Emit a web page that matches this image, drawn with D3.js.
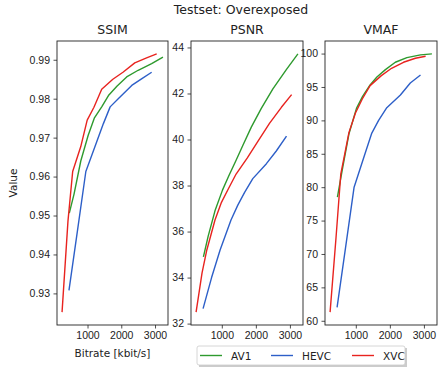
<!DOCTYPE html>
<html>
<head>
<meta charset="utf-8">
<script src="https://cdn.jsdelivr.net/npm/d3@7"></script>
<style>
  body { margin: 0; background: #fff; }
  svg { display: block; font-family: 'DejaVu Sans', sans-serif; }
  .tick text { font-size: 10.5px; fill: #222; }
</style>
</head>
<body>
<div id="chart"></div>
<script>
// bitrates per codec (kbit/s)
const bitrateAV1 = [460, 600, 800, 1020, 1200, 1420, 1620, 1870, 2160, 2500, 2900, 3235]
const bitrateHEVC = [450, 700, 950, 1270, 1470, 1670, 1910, 2310, 2600, 2900]
const bitrateXVC = [245, 420, 560, 800, 990, 1190, 1420, 1750, 2050, 2400, 2750, 3050]

// SSIM
const ssimAV1 = [0.9506, 0.9555, 0.964, 0.9706, 0.975, 0.9779, 0.9808, 0.9832, 0.9856, 0.9873, 0.989, 0.9907]
const ssimHEVC = [0.9308, 0.946, 0.9613, 0.9689, 0.9736, 0.9779, 0.98, 0.9834, 0.9851, 0.9868]
const ssimXVC = [0.9252, 0.9485, 0.9613, 0.9677, 0.9745, 0.9778, 0.9824, 0.985, 0.9868, 0.9892, 0.9905, 0.9915]

// PSNR
const psnrAV1 = [34.9, 35.8, 36.9, 37.8, 38.4, 39.1, 39.75, 40.55, 41.35, 42.2, 43.05, 43.72]
const psnrHEVC = [32.65, 34.0, 35.2, 36.5, 37.15, 37.7, 38.3, 38.95, 39.5, 40.15]
const psnrXVC = [32.5, 34.2, 35.2, 36.5, 37.27, 37.85, 38.5, 39.2, 39.9, 40.7, 41.4, 41.95]

// VMAF
const vmafAV1 = [78.5, 82.5, 88.0, 91.8, 93.6, 95.3, 96.5, 97.6, 98.7, 99.4, 99.8, 99.95]
const vmafHEVC = [62.0, 71.0, 80.0, 85.0, 88.1, 90.0, 91.9, 93.8, 95.6, 96.8]
const vmafXVC = [61.3, 72.5, 82.0, 88.2, 91.1, 93.2, 95.2, 96.7, 97.8, 98.7, 99.3, 99.6]

const codecs = ['AV1', 'HEVC', 'XVC']
const metrics = ['SSIM', 'PSNR', 'VMAF']
const chartTitle = 'Testset: Overexposed'

const colors = { AV1: '#2e9a2e', HEVC: '#2d5fc8', XVC: '#e8231f' }
const bitrates = { AV1: bitrateAV1, HEVC: bitrateHEVC, XVC: bitrateXVC }
const values = {
  SSIM: { AV1: ssimAV1, HEVC: ssimHEVC, XVC: ssimXVC },
  PSNR: { AV1: psnrAV1, HEVC: psnrHEVC, XVC: psnrXVC },
  VMAF: { AV1: vmafAV1, HEVC: vmafHEVC, XVC: vmafXVC },
}
const panelOpts = {
  SSIM: { left: 57, right: 168, ticks: 6, fmt: d3.format('.2f') },
  PSNR: { left: 191, right: 303, ticks: 6, fmt: d3.format('d') },
  VMAF: { left: 325, right: 437, ticks: 8, fmt: d3.format('d') },
}

const width = 444
const height = 374
const plotTop = 41
const plotBottom = 325

// matplotlib-like 5% margins
const pad = (ext) => {
  const m = (ext[1] - ext[0]) * 0.05
  return [ext[0] - m, ext[1] + m]
}

const svg = d3.select('#chart').append('svg').attr('width', width).attr('height', height)
svg.append('rect').attr('width', width).attr('height', height).attr('fill', '#fff')

const xDomain = pad(d3.extent(codecs.flatMap((c) => bitrates[c])))

for (const metric of metrics) {
  const opt = panelOpts[metric]
  const x = d3.scaleLinear().domain(xDomain).range([opt.left, opt.right])
  const y = d3
    .scaleLinear()
    .domain(pad(d3.extent(codecs.flatMap((c) => values[metric][c]))))
    .range([plotBottom, plotTop])

  const g = svg.append('g')

  const line = d3
    .line()
    .x((d) => x(d[0]))
    .y((d) => y(d[1]))

  for (const c of codecs) {
    const pts = bitrates[c].map((b, i) => [b, values[metric][c][i]])
    g.append('path')
      .datum(pts)
      .attr('fill', 'none')
      .attr('stroke', colors[c])
      .attr('stroke-width', 1.4)
      .attr('stroke-linejoin', 'round')
      .attr('d', line)
  }

  const xAxis = g
    .append('g')
    .attr('transform', `translate(0,${plotBottom})`)
    .call(d3.axisBottom(x).ticks(3).tickSize(3.5).tickPadding(3.5).tickFormat(d3.format('d')))
  const yAxis = g
    .append('g')
    .attr('transform', `translate(${opt.left},0)`)
    .call(d3.axisLeft(y).ticks(opt.ticks).tickSize(3.5).tickPadding(3.5).tickFormat(opt.fmt))
  for (const ax of [xAxis, yAxis]) {
    ax.select('.domain').remove()
    ax.selectAll('.tick line').attr('stroke', '#222').attr('stroke-width', 0.8)
  }

  g.append('rect')
    .attr('x', opt.left)
    .attr('y', plotTop)
    .attr('width', opt.right - opt.left)
    .attr('height', plotBottom - plotTop)
    .attr('fill', 'none')
    .attr('stroke', '#222')
    .attr('stroke-width', 0.9)

  g.append('text')
    .attr('x', (opt.left + opt.right) / 2)
    .attr('y', plotTop - 7)
    .attr('text-anchor', 'middle')
    .attr('font-size', 12.5)
    .attr('fill', '#222')
    .text(metric)
}

svg
  .append('text')
  .attr('x', 241)
  .attr('y', 14)
  .attr('text-anchor', 'middle')
  .attr('font-size', 12.5)
  .attr('fill', '#222')
  .text(chartTitle)

svg
  .append('text')
  .attr('transform', `translate(17,183) rotate(-90)`)
  .attr('text-anchor', 'middle')
  .attr('font-size', 10.5)
  .attr('fill', '#222')
  .text('Value')

svg
  .append('text')
  .attr('x', (panelOpts.SSIM.left + panelOpts.SSIM.right) / 2)
  .attr('y', 357)
  .attr('text-anchor', 'middle')
  .attr('font-size', 10.5)
  .attr('fill', '#222')
  .text('Bitrate [kbit/s]')

// legend
const legend = svg.append('g').attr('transform', 'translate(197,346)')
legend.append('rect').attr('x', 2).attr('y', 2).attr('width', 208).attr('height', 19).attr('fill', '#999').attr('opacity', 0.5)
legend
  .append('rect')
  .attr('width', 208)
  .attr('height', 19)
  .attr('rx', 2)
  .attr('fill', '#fff')
  .attr('stroke', '#ccc')
  .attr('stroke-width', 0.8)
const legendX = [3, 74, 155]
codecs.forEach((c, i) => {
  legend
    .append('line')
    .attr('x1', legendX[i])
    .attr('x2', legendX[i] + 22)
    .attr('y1', 9.5)
    .attr('y2', 9.5)
    .attr('stroke', colors[c])
    .attr('stroke-width', 1.4)
  legend
    .append('text')
    .attr('x', legendX[i] + 31)
    .attr('y', 13.5)
    .attr('font-size', 10.5)
    .attr('fill', '#222')
    .text(c)
})
</script>
</body>
</html>
